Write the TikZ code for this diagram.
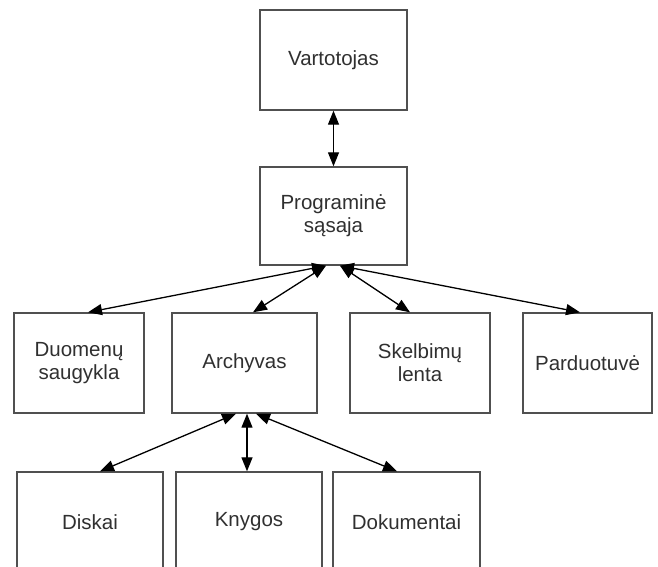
\documentclass[tikz,border=0pt]{standalone}
\usepackage{fontspec}
\setmainfont{Liberation Sans}
\usetikzlibrary{arrows.meta,calc}
\definecolor{boxline}{HTML}{505050}
\definecolor{txt}{HTML}{303030}
\begin{document}
\begin{tikzpicture}[x=1pt,y=-1pt,
  box/.style={draw=boxline,line width=1.4pt,rectangle,minimum height=100pt,align=center,
    font=\fontsize{20.5}{23}\selectfont,text=txt,inner sep=0pt},
  link/.style={line width=1.3pt,draw=black,{Triangle[length=14pt,width=11pt]}-{Triangle[length=14pt,width=11pt]}}]
\useasboundingbox (0,0) rectangle (658,567);
\clip (0,0) rectangle (658,567);
\node[box,minimum width=147pt] (vart) at (333.5,60) {Vartotojas};
\node[box,minimum width=147pt,minimum height=98pt] (prog) at (333.5,216) {Programinė\\sąsaja};
\node[box,minimum width=130pt] (duom) at (79,363) {Duomenų\\saugykla};
\node[box,minimum width=145pt] (arch) at (244.5,363) {Archyvas};
\node[box,minimum width=140pt] (skel) at (420,363) {Skelbimų\\lenta};
\node[box,minimum width=129pt] (pard) at (587.5,363) {Parduotuvė};
\node[box,minimum width=146pt] (disk) at (90,522) {Diskai};
\node[box,minimum width=146pt] (knyg) at (249,522) {Knygos};
\node[box,minimum width=147pt] (doku) at (406.5,522) {Dokumentai};
\coordinate (pL) at ($(prog.south)+(-7.5,0)$);
\coordinate (pR) at ($(prog.south)+(6.5,0)$);
\coordinate (aL) at ($(arch.south)+(-8.5,0)$);
\coordinate (aM) at ($(arch.south)+(2.5,0)$);
\coordinate (aR) at ($(arch.south)+(11.5,0)$);
\coordinate (dT) at ($(duom.north)+(9,0)$);
\coordinate (arT) at ($(arch.north)+(8.5,0)$);
\coordinate (sT) at ($(skel.north)+(-10,0)$);
\coordinate (paT) at ($(pard.north)+(-7.5,0)$);
\coordinate (diT) at ($(disk.north)+(10,0)$);
\coordinate (kT) at ($(knyg.north)+(-2,0)$);
\coordinate (doT) at ($(doku.north)+(-9.5,0)$);
\draw[link] (vart.south) -- (prog.north);
\draw[link] (pL) -- (dT);
\draw[link] (pL) -- (arT);
\draw[link] (pR) -- (sT);
\draw[link] (pR) -- (paT);
\draw[link] (aL) -- (diT);
\draw[link] (aM) -- (kT);
\draw[link] (aR) -- (doT);
\end{tikzpicture}
\end{document}
